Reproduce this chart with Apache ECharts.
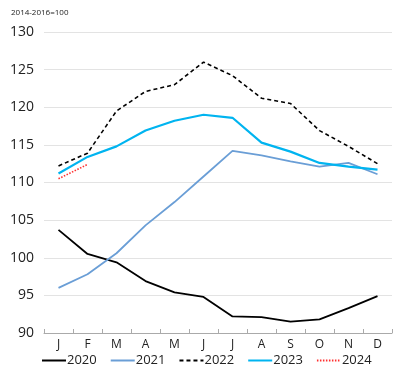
<!DOCTYPE html>
<html><head><meta charset="utf-8">
<script src="https://cdn.jsdelivr.net/npm/echarts@6/dist/echarts.min.js"></script>
<style>html,body{margin:0;padding:0;background:#fff}#c{width:400px;height:370px}</style>
</head><body><div id="c"></div>
<script>
const months = ['J','F','M','A','M','J','J','A','S','O','N','D'];
const y2020 = [103.7,100.5,99.4,96.9,95.4,94.8,92.2,92.1,91.5,91.8,93.3,94.9];
const y2021 = [96.0,97.8,100.6,104.3,107.4,110.8,114.2,113.6,112.8,112.1,112.6,111.1];
const y2022 = [112.2,113.9,119.5,122.1,123.0,126.0,124.2,121.2,120.5,116.9,114.8,112.5];
const y2023 = [111.2,113.4,114.8,116.9,118.2,119.0,118.6,115.3,114.1,112.6,112.1,111.7];
const y2024 = [110.5,112.4];
const yTicks = {min:90,max:130,interval:5};
const font = 'Open Sans, Liberation Sans, sans-serif';
const chart = echarts.init(document.getElementById('c'),null,{renderer:'canvas'});
function s(name,data,color,width,type){
  return {name,type:'line',data,symbol:'none',smooth:false,
    lineStyle:{color,width,type},itemStyle:{color},z:2};
}
chart.setOption({
  animation:false,
  title:{text:'2014-2016=100',left:6,top:4,textStyle:{fontSize:8,fontWeight:'normal',color:'#222',fontFamily:font}},
  grid:{left:44,right:8,top:32,bottom:37,containLabel:false},
  xAxis:{type:'category',data:months,boundaryGap:true,
    axisLine:{lineStyle:{color:'#aaa',width:1}},
    axisTick:{show:true,length:4,lineStyle:{color:'#aaa'},inside:true},
    axisLabel:{color:'#222',fontSize:12,fontFamily:font,margin:6},
    splitLine:{show:false}},
  yAxis:{type:'value',min:yTicks.min,max:yTicks.max,interval:yTicks.interval,
    axisLine:{show:false},axisTick:{show:false},
    axisLabel:{color:'#222',fontSize:14,fontFamily:font,margin:10,align:'right'},
    splitLine:{lineStyle:{color:'#e3e3e3',width:1}}},
  legend:{bottom:-2,left:36,itemWidth:24,itemHeight:12,itemGap:13,
    itemStyle:{opacity:0},
    textStyle:{fontSize:13,color:'#222',fontFamily:font,padding:[0,0,0,-4]},
    data:['2020','2021','2022','2023','2024']},
  series:[
    s('2020',y2020,'#000',1.8,'solid'),
    s('2021',y2021,'#6a9ed6',1.8,'solid'),
    s('2022',y2022,'#000',1.6,[4,3]),
    s('2023',y2023,'#00b4f0',2.2,'solid'),
    s('2024',y2024,'#ff3030',1.6,[1.5,1.5])
  ]
});
</script></body></html>
